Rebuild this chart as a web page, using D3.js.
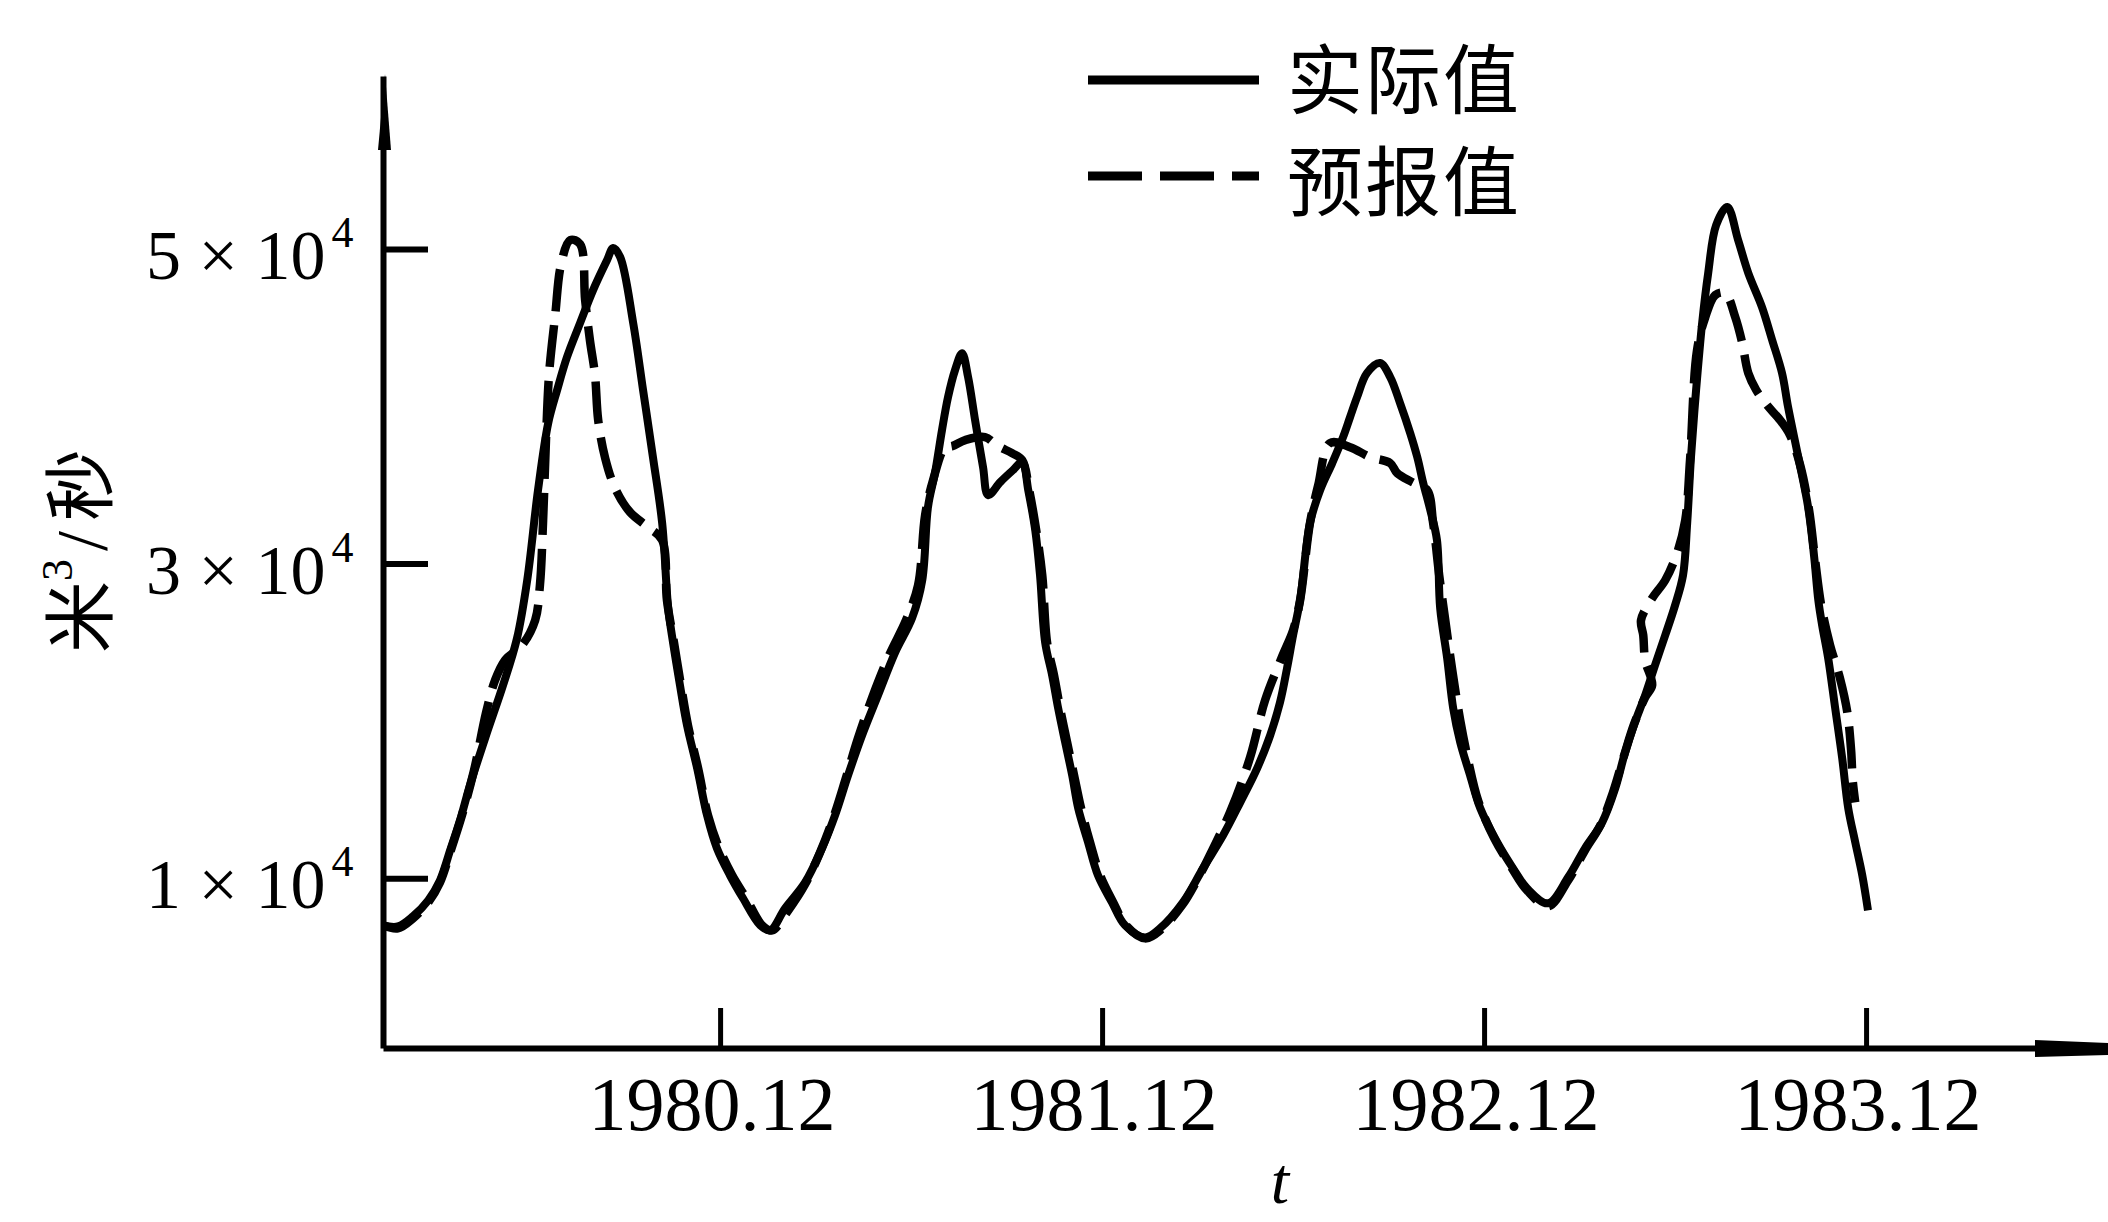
<!DOCTYPE html>
<html>
<head>
<meta charset="utf-8">
<script src="https://cdn.jsdelivr.net/npm/d3@7"></script>
<style>
  body { margin: 0; background: #fff; }
  svg { display: block; }
</style>
</head>
<body>
<div id="chart"></div>
<script>
const chart_width = 2108;
const chart_height = 1222;

// months counted from 1980.01, flow in m3/s
const actualMonth = [0.41, 0.88, 1.35, 1.83, 2.20, 2.52, 2.83, 3.14, 3.68, 4.18, 4.62, 4.94, 5.28, 5.60, 5.88, 6.19, 6.60, 7.01, 7.45, 7.64,
  7.86, 8.27, 8.58, 8.89, 9.18, 9.37, 9.52, 9.74, 9.96, 10.28, 10.59, 10.90, 11.31, 11.72, 12.26, 12.57, 13.04, 13.67, 14.20, 14.61,
  15.02, 15.46, 15.96, 16.50, 17.03, 17.35, 17.53, 17.75, 17.97, 18.16, 18.38, 18.60, 18.79, 19.01, 19.26, 19.42, 19.80, 20.20, 20.49, 20.68,
  20.90, 21.05, 21.21, 21.43, 21.62, 21.84, 22.06, 22.25, 22.56, 22.87, 23.31, 23.72, 24.35, 24.82, 25.54, 26.17, 26.80, 27.34, 27.87, 28.28,
  28.59, 28.81, 29.00, 29.22, 29.53, 29.85, 30.23, 30.57, 30.79, 31.01, 31.32, 31.73, 32.05, 32.36, 32.68, 32.90, 33.09, 33.31, 33.52, 33.62,
  33.84, 34.03, 34.25, 34.56, 34.88, 35.41, 35.91, 36.35, 37.01, 37.64, 38.17, 38.71, 39.12, 39.43, 39.74, 40.06, 40.37, 40.69, 41.00, 41.25,
  41.38, 41.50, 41.66, 41.85, 42.04, 42.29, 42.64, 42.98, 43.30, 43.73, 44.05, 44.36, 44.55, 44.87, 45.18, 45.37, 45.50, 45.62, 45.81, 46.03,
  46.25, 46.44, 46.66, 46.88, 47.06];
const actualFlow = [7000, 6930, 7570, 8590, 9860, 11770, 13680, 15900, 19270, 22260, 25250, 28940, 34670, 38930, 41030, 43130, 45290, 47390, 49300, 50060,
  49490, 45290, 41030, 36770, 32570, 27160, 25000, 22260, 19720, 16980, 13990, 11900, 10180, 8720, 7000, 6680, 8080, 9730, 11900, 13990,
  16540, 19080, 21630, 24360, 26530, 28940, 33590, 35750, 38480, 40580, 42300, 43380, 41860, 39120, 36130, 34350, 35180, 35940, 36450, 34670,
  32120, 29260, 25000, 22900, 20800, 18640, 16540, 14440, 12280, 10180, 8460, 7000, 6230, 6810, 8460, 10620, 12720, 14820, 16980, 19080,
  21180, 23350, 25440, 27670, 32570, 34670, 36390, 38040, 39310, 40580, 42110, 42750, 41860, 40200, 38290, 36770, 35110, 33400, 31490, 27160,
  23980, 20800, 18640, 16540, 14440, 12280, 10620, 9350, 8400, 10050, 11900, 13550, 15710, 18000, 19910, 21630, 23540, 25440, 27350, 29260,
  32570, 36770, 41030, 45290, 48470, 51520, 52670, 50570, 48470, 46310, 44210, 42110, 39950, 36770, 33590, 30410, 27670, 26080, 23980, 20800,
  17620, 14440, 12280, 10180, 7950];

const forecastMonth = [0.41, 0.88, 1.35, 1.83, 2.20, 2.52, 2.89, 3.27, 3.65, 3.93, 4.24, 4.78, 5.19, 5.34, 5.44, 5.53, 5.63, 5.82, 6.00, 6.29,
  6.60, 6.76, 6.91, 7.07, 7.17, 7.39, 7.70, 8.17, 8.74, 9.18, 9.33, 9.55, 9.77, 9.99, 10.31, 10.62, 10.97, 11.38, 11.82, 12.32,
  12.63, 13.14, 13.67, 14.14, 14.55, 14.93, 15.33, 15.77, 16.31, 16.84, 17.22, 17.44, 17.69, 18.07, 18.29, 18.70, 19.32, 19.73, 20.17, 20.49,
  20.71, 20.93, 21.12, 21.27, 21.49, 21.68, 21.90, 22.12, 22.34, 22.62, 22.94, 23.35, 23.75, 24.35, 24.82, 25.51, 26.08, 26.46, 27.02, 27.65,
  28.12, 28.66, 29.00, 29.22, 29.53, 29.79, 30.16, 30.79, 31.42, 32.05, 32.27, 32.74, 33.21, 33.40, 33.59, 33.78, 34.00, 34.25, 34.50, 34.81,
  35.32, 35.88, 36.35, 37.01, 37.64, 38.17, 38.65, 39.05, 39.40, 39.71, 40.06, 40.28, 40.06, 40.00, 39.93, 40.28, 40.69, 41.06, 41.32, 41.47,
  41.69, 41.94, 42.26, 42.57, 42.89, 43.11, 43.30, 43.55, 43.89, 44.30, 44.61, 44.93, 45.21, 45.40, 45.59, 45.87, 46.18, 46.41, 46.53, 46.58,
  46.66];
const forecastFlow = [7000, 6810, 7440, 8460, 9730, 11640, 13990, 16860, 20550, 22580, 23850, 24810, 26400, 28630, 32760, 37850, 42110, 45800, 48980, 50570,
  50320, 46750, 44210, 41980, 39120, 36700, 34800, 33270, 32310, 31490, 27670, 25000, 22260, 19720, 16980, 13990, 11900, 10180, 8720, 7000,
  6680, 7950, 9610, 11640, 13800, 16220, 18890, 21440, 24170, 26400, 28630, 33080, 35300, 37400, 37470, 37850, 38040, 37470, 37020, 36580,
  34670, 32120, 29260, 25000, 22900, 20800, 18640, 16540, 14440, 12280, 10180, 8460, 7000, 6170, 6680, 8270, 10240, 11770, 14190, 17680,
  21310, 24110, 25760, 27670, 32570, 34990, 37660, 37400, 36770, 36390, 35750, 35180, 34670, 32570, 29260, 26400, 23220, 20040, 17490, 14950,
  12530, 10620, 9220, 8210, 9860, 11770, 13360, 15460, 17810, 19780, 21500, 22260, 23850, 25440, 26400, 27800, 28940, 30660, 32760, 36580,
  43570, 45610, 47070, 47200, 45670, 44020, 42110, 41030, 40070, 39120, 38170, 36260, 33400, 30220, 27350, 24810, 22710, 20550, 18130, 16220,
  14820];

const yTickValues = [10000, 30000, 50000];
const yTickLeads = ["1", "3", "5"];
const xTickMonths = [11, 23, 35, 47];
const xTickLabels = ["1980.12", "1981.12", "1982.12", "1983.12"];
const legendNames = ["实际值", "预报值"];

const serif = "'Liberation Serif', 'DejaVu Serif', serif";
const cjk = "'Noto Sans CJK SC', 'Noto Sans', sans-serif";

const svg = d3.select("#chart")
    .append("svg")
    .attr("width", chart_width)
    .attr("height", chart_height);

svg.append("rect").attr("width", chart_width).attr("height", chart_height).attr("fill", "#fff");

const x = d3.scaleLinear()
    .domain([0.41, 54.6])
    .range([383, 2108]);

const y = d3.scaleLinear()
    .domain([-800, 61000])
    .range([1048, 76]);

// y axis, ticks pointing inward
const yAxis = svg.append("g")
    .attr("transform", `translate(${x(0.41)},0)`)
    .call(d3.axisRight(y).tickValues(yTickValues).tickSize(45).tickSizeOuter(0).tickFormat(""));
yAxis.select(".domain").attr("stroke", "#000").attr("stroke-width", 6);
yAxis.selectAll(".tick line").attr("stroke", "#000").attr("stroke-width", 6);

svg.append("path")
    .attr("d", `M${x(0.41) + 2},74 L${x(0.41) + 8},150 L${x(0.41) - 5},150 Z`)
    .attr("fill", "#000");

// x axis, ticks pointing up
const xAxis = svg.append("g")
    .attr("transform", `translate(0,${y(-800)})`)
    .call(d3.axisTop(x).tickValues(xTickMonths).tickSize(40).tickSizeOuter(0).tickFormat(""));
xAxis.select(".domain").attr("stroke", "#000").attr("stroke-width", 6);
xAxis.selectAll(".tick line").attr("stroke", "#000").attr("stroke-width", 5);

svg.append("path")
    .attr("d", `M2035,${y(-800) - 8} L2108,${y(-800) - 5} L2108,${y(-800) + 7} L2035,${y(-800) + 9} Z`)
    .attr("fill", "#000");

// y tick labels  n × 10^4
yTickValues.forEach((v, i) => {
    const t = svg.append("text")
        .attr("x", 146)
        .attr("y", y(v) + 30)
        .attr("font-family", serif)
        .attr("font-size", 70)
        .attr("fill", "#000");
    t.append("tspan").text(yTickLeads[i] + " × 10");
    t.append("tspan").attr("dx", 6).attr("dy", -32).attr("font-size", 44).text("4");
});

// x tick labels
svg.selectAll(".xlab")
    .data(xTickMonths)
    .join("text")
    .attr("class", "xlab")
    .attr("x", d => x(d) - 8)
    .attr("y", 1130)
    .attr("text-anchor", "middle")
    .attr("font-family", serif)
    .attr("font-size", 76)
    .attr("fill", "#000")
    .text((d, i) => xTickLabels[i]);

// axis titles
svg.append("text")
    .attr("x", 1280)
    .attr("y", 1203)
    .attr("text-anchor", "middle")
    .attr("font-family", serif)
    .attr("font-style", "italic")
    .attr("font-size", 66)
    .text("t");

const yTitle = svg.append("text")
    .attr("transform", "translate(106,551) rotate(-90)")
    .attr("text-anchor", "middle")
    .attr("font-family", cjk)
    .attr("font-size", 72)
    .attr("fill", "#000");
yTitle.append("tspan").text("米");
yTitle.append("tspan").attr("font-family", serif).attr("font-size", 44).attr("dy", -34).text("3");
yTitle.append("tspan").attr("font-family", serif).attr("dy", 34).attr("dx", 8).text("/");
yTitle.append("tspan").attr("dx", 10).text("秒");

// lines
const line = d3.line()
    .x(d => x(d[0]))
    .y(d => y(d[1]))
    .curve(d3.curveCatmullRom.alpha(0.5));

const actual = actualMonth.map((m, i) => [m, actualFlow[i]]);
const forecast = forecastMonth.map((m, i) => [m, forecastFlow[i]]);

svg.append("path")
    .datum(actual)
    .attr("d", line)
    .attr("fill", "none")
    .attr("stroke", "#000")
    .attr("stroke-width", 8)
    .attr("stroke-linejoin", "round");

svg.append("path")
    .datum(forecast)
    .attr("d", line)
    .attr("fill", "none")
    .attr("stroke", "#000")
    .attr("stroke-width", 8.5)
    .attr("stroke-dasharray", "42,14")
    .attr("stroke-linejoin", "round");

// legend
const legend = svg.append("g");
legend.append("line")
    .attr("x1", 1088).attr("x2", 1259).attr("y1", 80).attr("y2", 80)
    .attr("stroke", "#000").attr("stroke-width", 9);
legend.append("line")
    .attr("x1", 1088).attr("x2", 1259).attr("y1", 176).attr("y2", 176)
    .attr("stroke", "#000").attr("stroke-width", 9)
    .attr("stroke-dasharray", "54,18");
legend.selectAll("text")
    .data(legendNames)
    .join("text")
    .attr("x", 1287)
    .attr("y", (d, i) => 108 + i * 102)
    .attr("font-family", cjk)
    .attr("font-size", 76)
    .attr("letter-spacing", 2)
    .attr("fill", "#000")
    .text(d => d);
</script>
</body>
</html>
